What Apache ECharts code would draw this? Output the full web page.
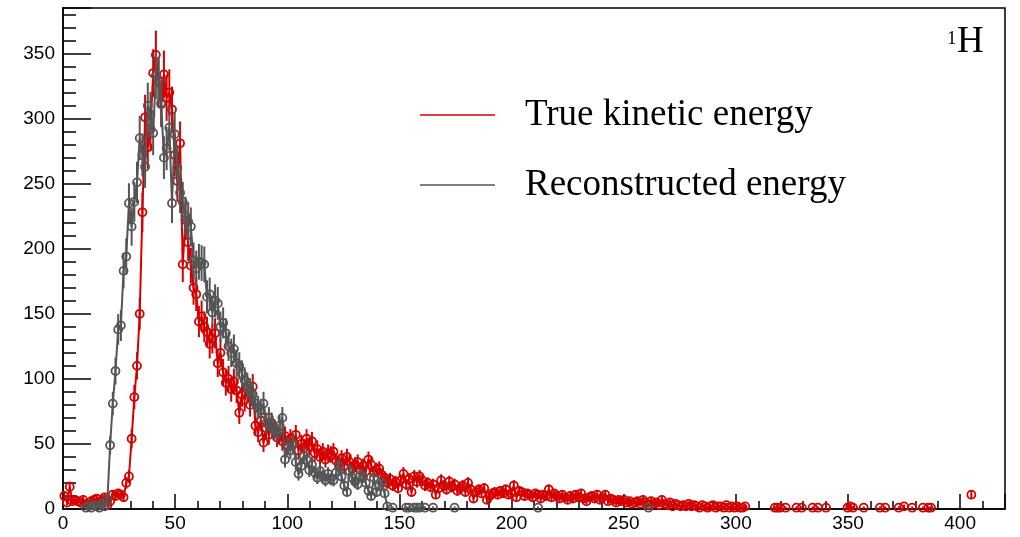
<!DOCTYPE html>
<html>
<head>
<meta charset="utf-8">
<script src="https://cdn.jsdelivr.net/npm/echarts@6/dist/echarts.min.js"></script>
<style>
  html, body { margin: 0; padding: 0; background: #fff; }
  #chart { width: 1020px; height: 537px; }
</style>
</head>
<body>
<div id="chart"></div>
<script>
// Histogram binning: 350 bins of 1.2 over 0..420
const BIN_WIDTH = 1.2;
const X_MAX = 420;
const Y_MAX = 385;
const X_TICK_LABELS = [0, 50, 100, 150, 200, 250, 300, 350, 400];
const Y_TICK_LABELS = [0, 50, 100, 150, 200, 250, 300, 350];

// Counts per bin, true kinetic energy (0 = empty bin)
const trueKinetic = [
  10, 5, 17, 6, 7, 6, 5, 7, 4, 3,
  6, 7, 8, 5, 7, 9, 3, 6, 11, 10,
  12, 11, 9, 20, 25, 54, 86, 110, 150, 228,
  301, 278, 292, 335, 349, 328, 312, 334, 316, 320,
  307, 272, 252, 281, 188, 222, 205, 187, 170, 165,
  144, 148, 140, 136, 127, 131, 135, 112, 120, 105,
  97, 100, 92, 98, 91, 74, 88, 84, 92, 80,
  94, 64, 59, 68, 51, 62, 57, 66, 61, 55,
  58, 52, 56, 49, 54, 51, 57, 45, 50, 47,
  54, 48, 52, 43, 46, 40, 44, 38, 43, 42,
  44, 37, 35, 39, 33, 40, 36, 31, 34, 36,
  30, 33, 29, 38, 34, 28, 30, 31, 26, 24,
  20, 23, 18, 21, 16, 22, 27, 19, 23, 13,
  25, 21, 25, 22, 18, 20, 17, 19, 11, 16,
  22, 18, 15, 21, 17, 19, 14, 16, 18, 13,
  20, 15, 8, 13, 15, 12, 16, 7, 10, 12,
  13, 11, 14, 12, 15, 11, 12, 18, 9, 14,
  13, 10, 12, 11, 9, 12, 11, 8, 11, 10,
  15, 9, 12, 10, 8, 11, 9, 7, 10, 8,
  11, 9, 12, 8, 6, 9, 10, 8, 11, 7,
  9, 11, 6, 8, 7, 5, 7, 6, 7, 5,
  6, 4, 5, 6, 4, 7, 5, 3, 6, 4,
  5, 3, 7, 4, 3, 5, 2, 4, 3, 2,
  3, 2, 4, 2, 3, 2, 1, 3, 2, 1,
  2, 3, 1, 2, 2, 1, 3, 1, 2, 1,
  2, 1, 1, 2, 0, 0, 0, 0, 0, 0,
  0, 0, 0, 0, 1, 1, 1, 0, 1, 0,
  0, 0, 1, 0, 1, 0, 0, 0, 1, 0,
  1, 0, 0, 1, 0, 0, 0, 0, 0, 0,
  0, 1, 2, 1, 0, 0, 0, 1, 0, 0,
  0, 0, 0, 1, 0, 1, 0, 0, 0, 0,
  1, 0, 2, 0, 0, 1, 0, 0, 0, 1,
  0, 1, 1, 0, 0, 0, 0, 0, 0, 0,
  0, 0, 0, 0, 0, 0, 0, 11, 0, 0,
  0, 0, 0, 0, 0, 0, 0, 0, 0, 0
];

// Counts per bin, reconstructed energy (0 = empty bin)
const reconstructed = [
  0, 0, 0, 0, 0, 0, 0, 0, 1, 2,
  1, 3, 2, 1, 4, 2, 7, 49, 81, 106,
  138, 141, 183, 194, 235, 217, 236, 251, 285, 272,
  263, 310, 303, 289, 333, 329, 311, 270, 277, 293,
  235, 288, 262, 243, 236, 225, 221, 217, 191, 185,
  190, 189, 188, 163, 165, 151, 160, 158, 140, 143,
  135, 125, 120, 123, 112, 110, 104, 99, 95, 91,
  88, 81, 78, 76, 81, 66, 70, 63, 61, 58,
  64, 70, 38, 48, 45, 50, 36, 27, 33, 41,
  38, 30, 34, 28, 24, 29, 25, 22, 27, 23,
  22, 28, 33, 25, 18, 13, 29, 24, 21, 19,
  26, 25, 20, 14, 10, 24, 13, 18, 20, 12,
  2, 0, 1, 0, 0, 0, 0, 1, 1, 0,
  1, 1, 1, 0, 1, 0, 0, 1, 0, 0,
  0, 0, 0, 0, 0, 1, 0, 0, 0, 0,
  0, 0, 0, 0, 0, 0, 0, 0, 0, 0,
  0, 0, 0, 0, 0, 0, 0, 0, 0, 0,
  0, 0, 0, 0, 0, 0, 1, 0, 0, 0,
  0, 0, 0, 0, 0, 0, 0, 0, 0, 0,
  0, 0, 0, 0, 0, 0, 0, 0, 0, 0,
  0, 0, 0, 0, 0, 0, 0, 0, 0, 0,
  0, 0, 0, 0, 0, 0, 0, 1, 0, 0,
  0, 0, 0, 0, 0, 0, 0, 0, 0, 0,
  0, 0, 0, 0, 0, 0, 0, 0, 0, 0,
  0, 0, 0, 0, 0, 0, 0, 0, 0, 0,
  0, 0, 0, 0, 0, 0, 0, 0, 0, 0,
  0, 0, 0, 0, 0, 0, 0, 0, 0, 0,
  0, 0, 0, 0, 0, 0, 0, 0, 0, 0,
  0, 0, 0, 0, 0, 0, 0, 0, 0, 0,
  0, 0, 0, 0, 0, 0, 0, 0, 0, 0,
  0, 0, 0, 0, 0, 0, 0, 0, 0, 0,
  0, 0, 0, 0, 0, 0, 0, 0, 0, 0,
  0, 0, 0, 0, 0, 0, 0, 0, 0, 0,
  0, 0, 0, 0, 0, 0, 0, 0, 0, 0,
  0, 0, 0, 0, 0, 0, 0, 0, 0, 0
];

const SERIES_NAMES = ['True kinetic energy', 'Reconstructed energy'];
const RED = '#d60000';
const GRAY = '#555555';
const LABEL_FONT = '"Liberation Sans", Arial, Helvetica, sans-serif';
const SERIF_FONT = '"Liberation Serif", "Times New Roman", serif';

const binCenter = i => BIN_WIDTH * (i + 0.5);

// Points joined by a line; empty bins leave a gap
function pointData(counts) {
  return counts.map((n, i) => [binCenter(i), n > 0 ? n : '-']);
}

// Poisson error bars: n ± sqrt(n)
function errorData(counts) {
  const out = [];
  counts.forEach((n, i) => {
    if (n > 0) {
      const e = Math.sqrt(n);
      out.push([binCenter(i), n - e, n + e]);
    }
  });
  return out;
}

function errorSeries(counts, color, z) {
  return {
    type: 'custom',
    name: 'err',
    data: errorData(counts),
    encode: { x: 0, y: [1, 2] },
    clip: true,
    z: z,
    silent: true,
    renderItem: function (params, api) {
      const x = api.value(0);
      const p1 = api.coord([x, api.value(1)]);
      const p2 = api.coord([x, api.value(2)]);
      return {
        type: 'line',
        shape: { x1: p1[0], y1: p1[1], x2: p2[0], y2: p2[1] },
        style: { stroke: color, lineWidth: 2 }
      };
    }
  };
}

function pointSeries(name, counts, color, z) {
  return {
    type: 'line',
    name: name,
    data: pointData(counts),
    z: z,
    symbol: 'circle',
    symbolSize: 8,
    showSymbol: true,
    showAllSymbol: true,
    connectNulls: false,
    clip: true,
    lineStyle: { color: color, width: 2 },
    itemStyle: { color: 'rgba(0,0,0,0)', borderColor: color, borderWidth: 1.8 },
    emphasis: { disabled: true }
  };
}

const chart = echarts.init(document.getElementById('chart'), null, { renderer: 'canvas' });

chart.setOption({
  animation: false,
  backgroundColor: '#fff',
  grid: {
    left: 63, right: 15, top: 8, bottom: 28,
    show: true, borderColor: '#000', borderWidth: 1.5, backgroundColor: 'transparent'
  },
  xAxis: {
    type: 'value',
    min: 0, max: X_MAX, interval: 50,
    axisLine: { show: true, lineStyle: { color: '#000', width: 1.5 } },
    axisTick: { show: true, inside: true, length: 15, lineStyle: { color: '#000', width: 1.5 } },
    minorTick: { show: true, splitNumber: 5, length: 8, lineStyle: { color: '#000', width: 1.5 } },
    splitLine: { show: false },
    axisLabel: {
      showMaxLabel: false, margin: 5, color: '#000', fontSize: 19, fontFamily: LABEL_FONT,
      formatter: v => (X_TICK_LABELS.indexOf(v) >= 0 ? String(v) : '')
    }
  },
  yAxis: {
    type: 'value',
    min: 0, max: Y_MAX, interval: 50,
    axisLine: { show: true, lineStyle: { color: '#000', width: 1.5 } },
    axisTick: { show: true, inside: true, length: 28, lineStyle: { color: '#000', width: 1.5 } },
    minorTick: { show: true, splitNumber: 5, length: 13, lineStyle: { color: '#000', width: 1.5 } },
    splitLine: { show: false },
    axisLabel: {
      showMaxLabel: false, margin: 8, color: '#000', fontSize: 19, fontFamily: LABEL_FONT,
      formatter: v => (Y_TICK_LABELS.indexOf(v) >= 0 ? String(v) : '')
    }
  },
  legend: {
    orient: 'vertical',
    left: 415, top: 90,
    icon: 'rect',
    itemWidth: 75, itemHeight: 1.5,
    itemGap: 30,
    selectedMode: false,
    itemStyle: { borderWidth: 0 },
    textStyle: {
      fontFamily: SERIF_FONT, fontSize: 37, color: '#000',
      lineHeight: 40, padding: [0, 0, 0, 25]
    },
    data: [
      { name: SERIES_NAMES[0], itemStyle: { color: RED, borderWidth: 0 } },
      { name: SERIES_NAMES[1], itemStyle: { color: GRAY, borderWidth: 0 } }
    ]
  },
  graphic: [
    {
      type: 'text', left: 947, top: 30,
      style: { text: '1', font: '19px ' + SERIF_FONT, fill: '#000' }
    },
    {
      type: 'text', left: 957, top: 24,
      style: { text: 'H', font: '37px ' + SERIF_FONT, fill: '#000' }
    }
  ],
  series: [
    errorSeries(trueKinetic, RED, 2),
    pointSeries(SERIES_NAMES[0], trueKinetic, RED, 3),
    errorSeries(reconstructed, GRAY, 4),
    pointSeries(SERIES_NAMES[1], reconstructed, GRAY, 5)
  ]
});
</script>
</body>
</html>
